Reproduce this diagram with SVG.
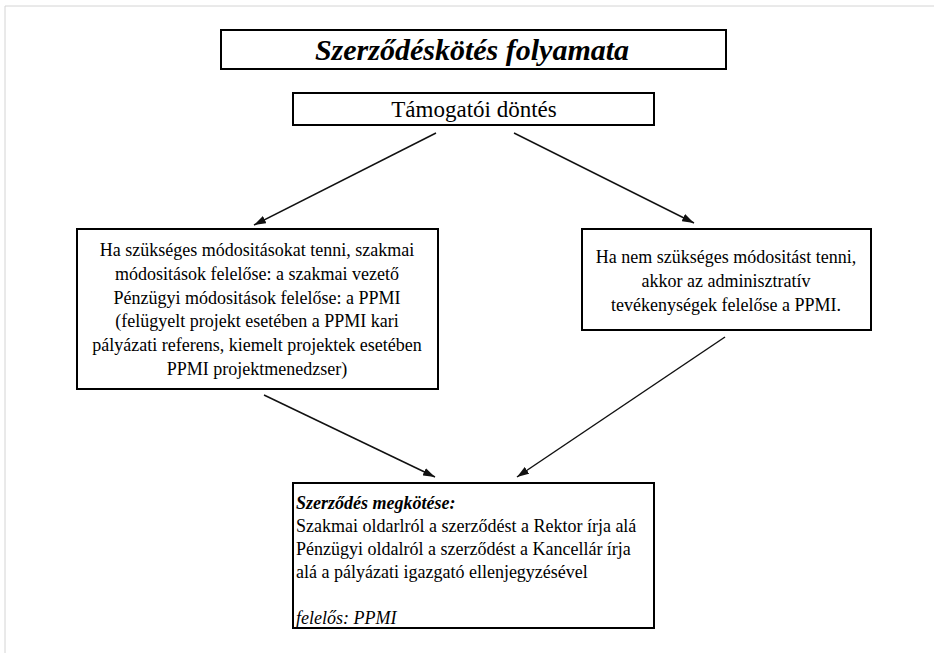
<svg xmlns="http://www.w3.org/2000/svg" width="934" height="653" viewBox="0 0 934 653">
<style>
.box{fill:#fff;stroke:#000;stroke-width:2}
.t{font-family:'Liberation Serif','Times New Roman',Tinos,'DejaVu Serif',serif;fill:#000}
.c{text-anchor:middle;font-size:18px}
.l{font-size:18px}
.conn{stroke:#111;stroke-width:1.5;fill:none;marker-end:url(#ah)}
</style>
<defs>
<marker id="ah" viewBox="0 0 12 8" refX="12" refY="4" markerWidth="12" markerHeight="8" markerUnits="userSpaceOnUse" orient="auto">
<path d="M0,0 L12,4 L0,8 Z" fill="#111"/>
</marker>
</defs>
<rect x="0" y="0" width="934" height="653" fill="#fff"/>
<path d="M5,653 V6 H934" stroke="#d4d4d4" stroke-width="1" fill="none"/>
<g id="title">
<rect class="box" x="221" y="30" width="505" height="39"/>
<text class="t" x="472" y="60" text-anchor="middle" font-size="30" font-weight="bold" font-style="italic">Szerződéskötés folyamata</text>
</g>
<g id="dontes">
<rect class="box" x="293" y="93" width="361" height="32"/>
<text class="t" x="474" y="117" text-anchor="middle" font-size="23">Támogatói döntés</text>
</g>
<g id="left">
<rect class="box" x="77" y="229" width="361" height="160"/>
<text class="t c" x="257" y="256">Ha szükséges módositásokat tenni, szakmai</text>
<text class="t c" x="257" y="280">módositások felelőse: a szakmai vezető</text>
<text class="t c" x="257" y="304">Pénzügyi módositások felelőse: a PPMI</text>
<text class="t c" x="257" y="327">(felügyelt projekt esetében a PPMI kari</text>
<text class="t c" x="257" y="351">pályázati referens, kiemelt projektek esetében</text>
<text class="t c" x="257" y="375">PPMI projektmenedzser)</text>
</g>
<g id="right">
<rect class="box" x="582" y="229" width="289" height="101"/>
<text class="t c" x="726" y="263" font-size="18.5">Ha nem szükséges módositást tenni,</text>
<text class="t c" x="726" y="287" font-size="18.5">akkor az adminisztratív</text>
<text class="t c" x="726" y="311" font-size="18.5">tevékenységek felelőse a PPMI.</text>
</g>
<g id="bottom">
<rect class="box" x="293" y="483" width="361" height="145"/>
<text class="t l" x="296" y="509" font-weight="bold" font-style="italic">Szerződés megkötése:</text>
<text class="t l" x="296" y="532">Szakmai oldarlról a szerződést a Rektor írja alá</text>
<text class="t l" x="296" y="555">Pénzügyi oldalról a szerződést a Kancellár írja</text>
<text class="t l" x="296" y="578">alá a pályázati igazgató ellenjegyzésével</text>
<text class="t l" x="296" y="624" font-style="italic">felelős: PPMI</text>
</g>
<g id="connectors">
<line class="conn" x1="436" y1="133" x2="254" y2="225"/>
<line class="conn" x1="514" y1="133" x2="694" y2="223"/>
<line class="conn" x1="264" y1="395" x2="435" y2="477"/>
<line class="conn" x1="725" y1="337" x2="517" y2="477"/>
</g>
</svg>
